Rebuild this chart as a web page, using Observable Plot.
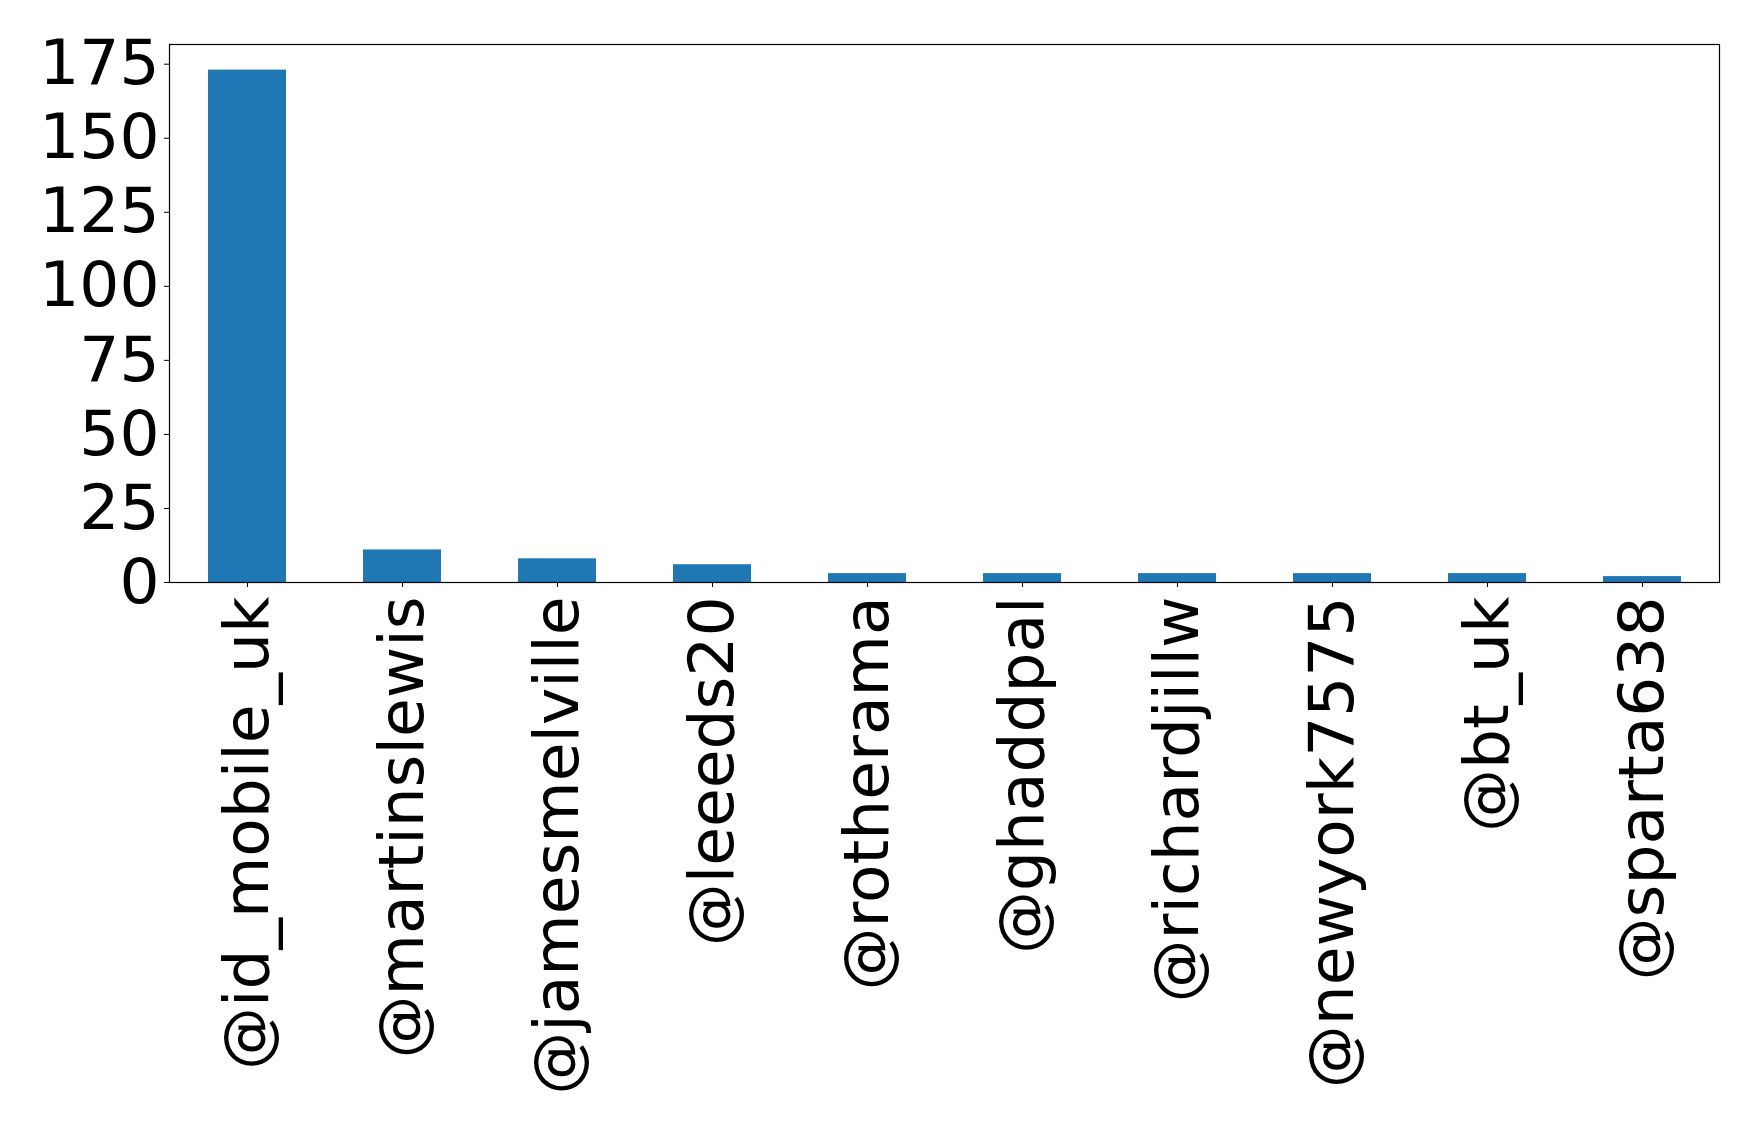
<!DOCTYPE html>
<html>
<head>
<meta charset="utf-8">
<script src="https://cdn.jsdelivr.net/npm/d3@7"></script>
<script src="https://cdn.jsdelivr.net/npm/@observablehq/plot@0.6"></script>
<style>
  html, body { margin: 0; padding: 0; background: #fff; }
  #chart svg { display: block; font-family: "DejaVu Sans", sans-serif; }
</style>
</head>
<body>
<div id="chart"></div>
<script>
const users = ["@id_mobile_uk", "@martinslewis", "@jamesmelville", "@leeeds20", "@rotherama", "@ghaddpal", "@richardjillw", "@newyork7575", "@bt_uk", "@sparta638"];
const counts = [173, 11, 8, 6, 3, 3, 3, 3, 3, 2];
const yTicks = [0, 25, 50, 75, 100, 125, 150, 175];

const data = users.map((u, i) => ({user: u, count: counts[i]}));

const chart = Plot.plot({
  width: 1758,
  height: 1126,
  marginLeft: 169,
  marginRight: 39,
  marginTop: 44,
  marginBottom: 544,
  style: {fontFamily: "DejaVu Sans, sans-serif", color: "black", background: "white"},
  x: {domain: users, paddingInner: 0.5, paddingOuter: 0.25, label: null},
  y: {domain: [0, 173 * 1.05], label: null},
  marks: [
    Plot.barY(data, {x: "user", y: "count", fill: "#1f77b4"}),
    Plot.frame({stroke: "black", strokeWidth: 1.2}),
    Plot.axisY({ticks: yTicks, tickSize: 5, tickPadding: 5, fontSize: 63, label: null, stroke: "black"}),
    Plot.axisX({tickSize: 5, tickPadding: 9, tickRotate: -90, fontSize: 63, label: null, stroke: "black"})
  ]
});
document.getElementById("chart").appendChild(chart);
</script>
</body>
</html>
